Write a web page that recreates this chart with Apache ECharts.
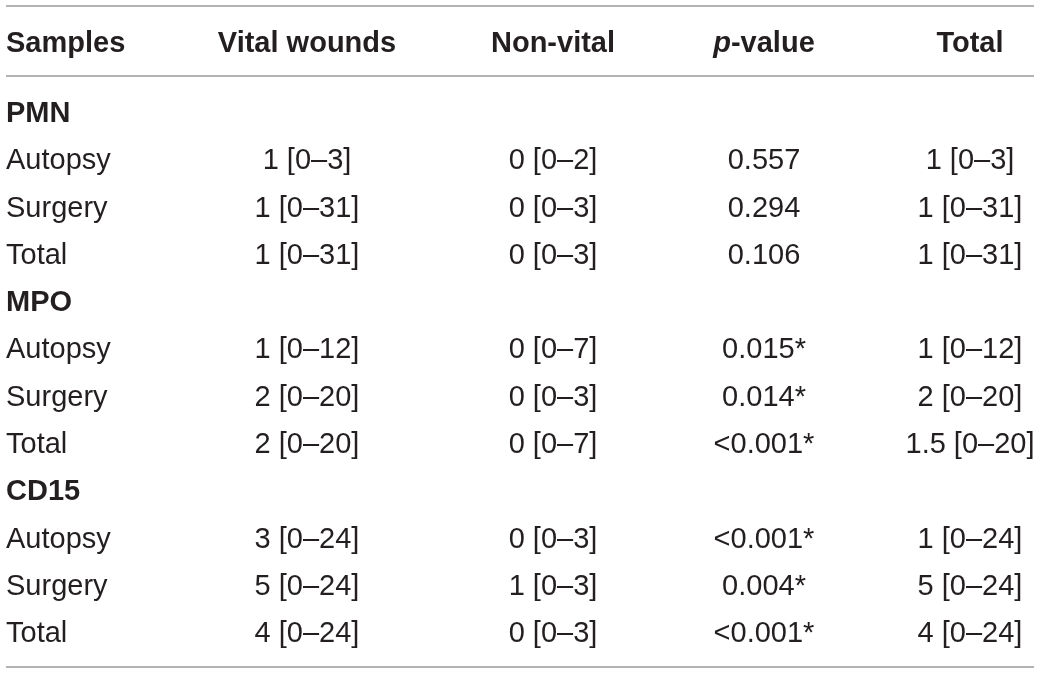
<!DOCTYPE html>
<html><head><meta charset="utf-8">
<script src="https://cdn.jsdelivr.net/npm/echarts@6/dist/echarts.min.js"></script>
<style>html,body{margin:0;padding:0;background:#fff}#c{width:1040px;height:674px}</style>
</head><body><div id="c"></div>
<script>
// ---- data ----
const headers = ['Samples', 'Vital wounds', 'Non-vital', 'p-value', 'Total'];
const rowLabels = ['PMN','Autopsy','Surgery','Total','MPO','Autopsy','Surgery','Total','CD15','Autopsy','Surgery','Total'];
const groupRows = ['PMN','MPO','CD15'];
const vitalWounds = ['', '1 [0–3]', '1 [0–31]', '1 [0–31]', '', '1 [0–12]', '2 [0–20]', '2 [0–20]', '', '3 [0–24]', '5 [0–24]', '4 [0–24]'];
const nonVital    = ['', '0 [0–2]', '0 [0–3]', '0 [0–3]', '', '0 [0–7]', '0 [0–3]', '0 [0–7]', '', '0 [0–3]', '1 [0–3]', '0 [0–3]'];
const pValues     = ['', '0.557', '0.294', '0.106', '', '0.015*', '0.014*', '<0.001*', '', '<0.001*', '0.004*', '<0.001*'];
const totals      = ['', '1 [0–3]', '1 [0–31]', '1 [0–31]', '', '1 [0–12]', '2 [0–20]', '1.5 [0–20]', '', '1 [0–24]', '5 [0–24]', '4 [0–24]'];

// ---- layout (styles, not data) ----
const colX = [6, 307, 553, 764, 970];
const FONT = '"Liberation Sans", Arial, sans-serif';
const COLOR = '#231f20';
const FS = 29;

const columns = [rowLabels, vitalWounds, nonVital, pValues, totals];
const rowIdx = rowLabels.map((_, i) => 'r' + i);

const bodySeries = columns.map((col, c) => ({
  type: 'scatter', xAxisIndex: 0, yAxisIndex: 0, symbolSize: 0, silent: true,
  itemStyle: { opacity: 1 },
  data: col.map((t, r) => ({
    value: [colX[c], rowIdx[r]], name: t,
    label: { fontWeight: (c === 0 && groupRows.includes(t)) ? 'bold' : 'normal' }
  })).filter(d => d.name !== ''),
  label: {
    show: true, position: 'inside', formatter: p => p.name,
    align: c === 0 ? 'left' : 'center', verticalAlign: 'middle',
    fontFamily: FONT, fontSize: FS, color: COLOR
  }
}));

const headerSeries = headers.map((h, c) => ({
  type: 'scatter', xAxisIndex: 1, yAxisIndex: 1, symbolSize: 0, silent: true,
  itemStyle: { opacity: 1 },
  data: [{ value: [colX[c], 'h'], name: h }],
  label: {
    show: true, position: 'inside', align: c === 0 ? 'left' : 'center', verticalAlign: 'middle',
    fontFamily: FONT, fontSize: FS, color: COLOR, fontWeight: 'bold',
    formatter: c === 3 ? '{i|p}-value' : h,
    rich: { i: { fontStyle: 'italic', fontWeight: 'bold', fontFamily: FONT, fontSize: FS, color: COLOR } }
  }
}));

const ruleStyle = { stroke: '#9a9a9a', lineWidth: 1.6 };
const chart = echarts.init(document.getElementById('c'));
chart.setOption({
  animation: false,
  grid: [
    { left: 0, right: 0, top: 90.4, height: 567.3 },
    { left: 0, right: 0, top: 9, height: 70 }
  ],
  xAxis: [
    { gridIndex: 0, type: 'value', min: 0, max: 1040, show: false },
    { gridIndex: 1, type: 'value', min: 0, max: 1040, show: false }
  ],
  yAxis: [
    { gridIndex: 0, type: 'category', data: rowIdx, inverse: true, show: false },
    { gridIndex: 1, type: 'category', data: ['h'], show: false }
  ],
  series: [...headerSeries, ...bodySeries],
  graphic: [
    { type: 'line', shape: { x1: 6, y1: 6, x2: 1034, y2: 6 }, style: ruleStyle },
    { type: 'line', shape: { x1: 6, y1: 76, x2: 1034, y2: 76 }, style: ruleStyle },
    { type: 'line', shape: { x1: 6, y1: 667, x2: 1034, y2: 667 }, style: ruleStyle }
  ]
});
</script></body></html>
